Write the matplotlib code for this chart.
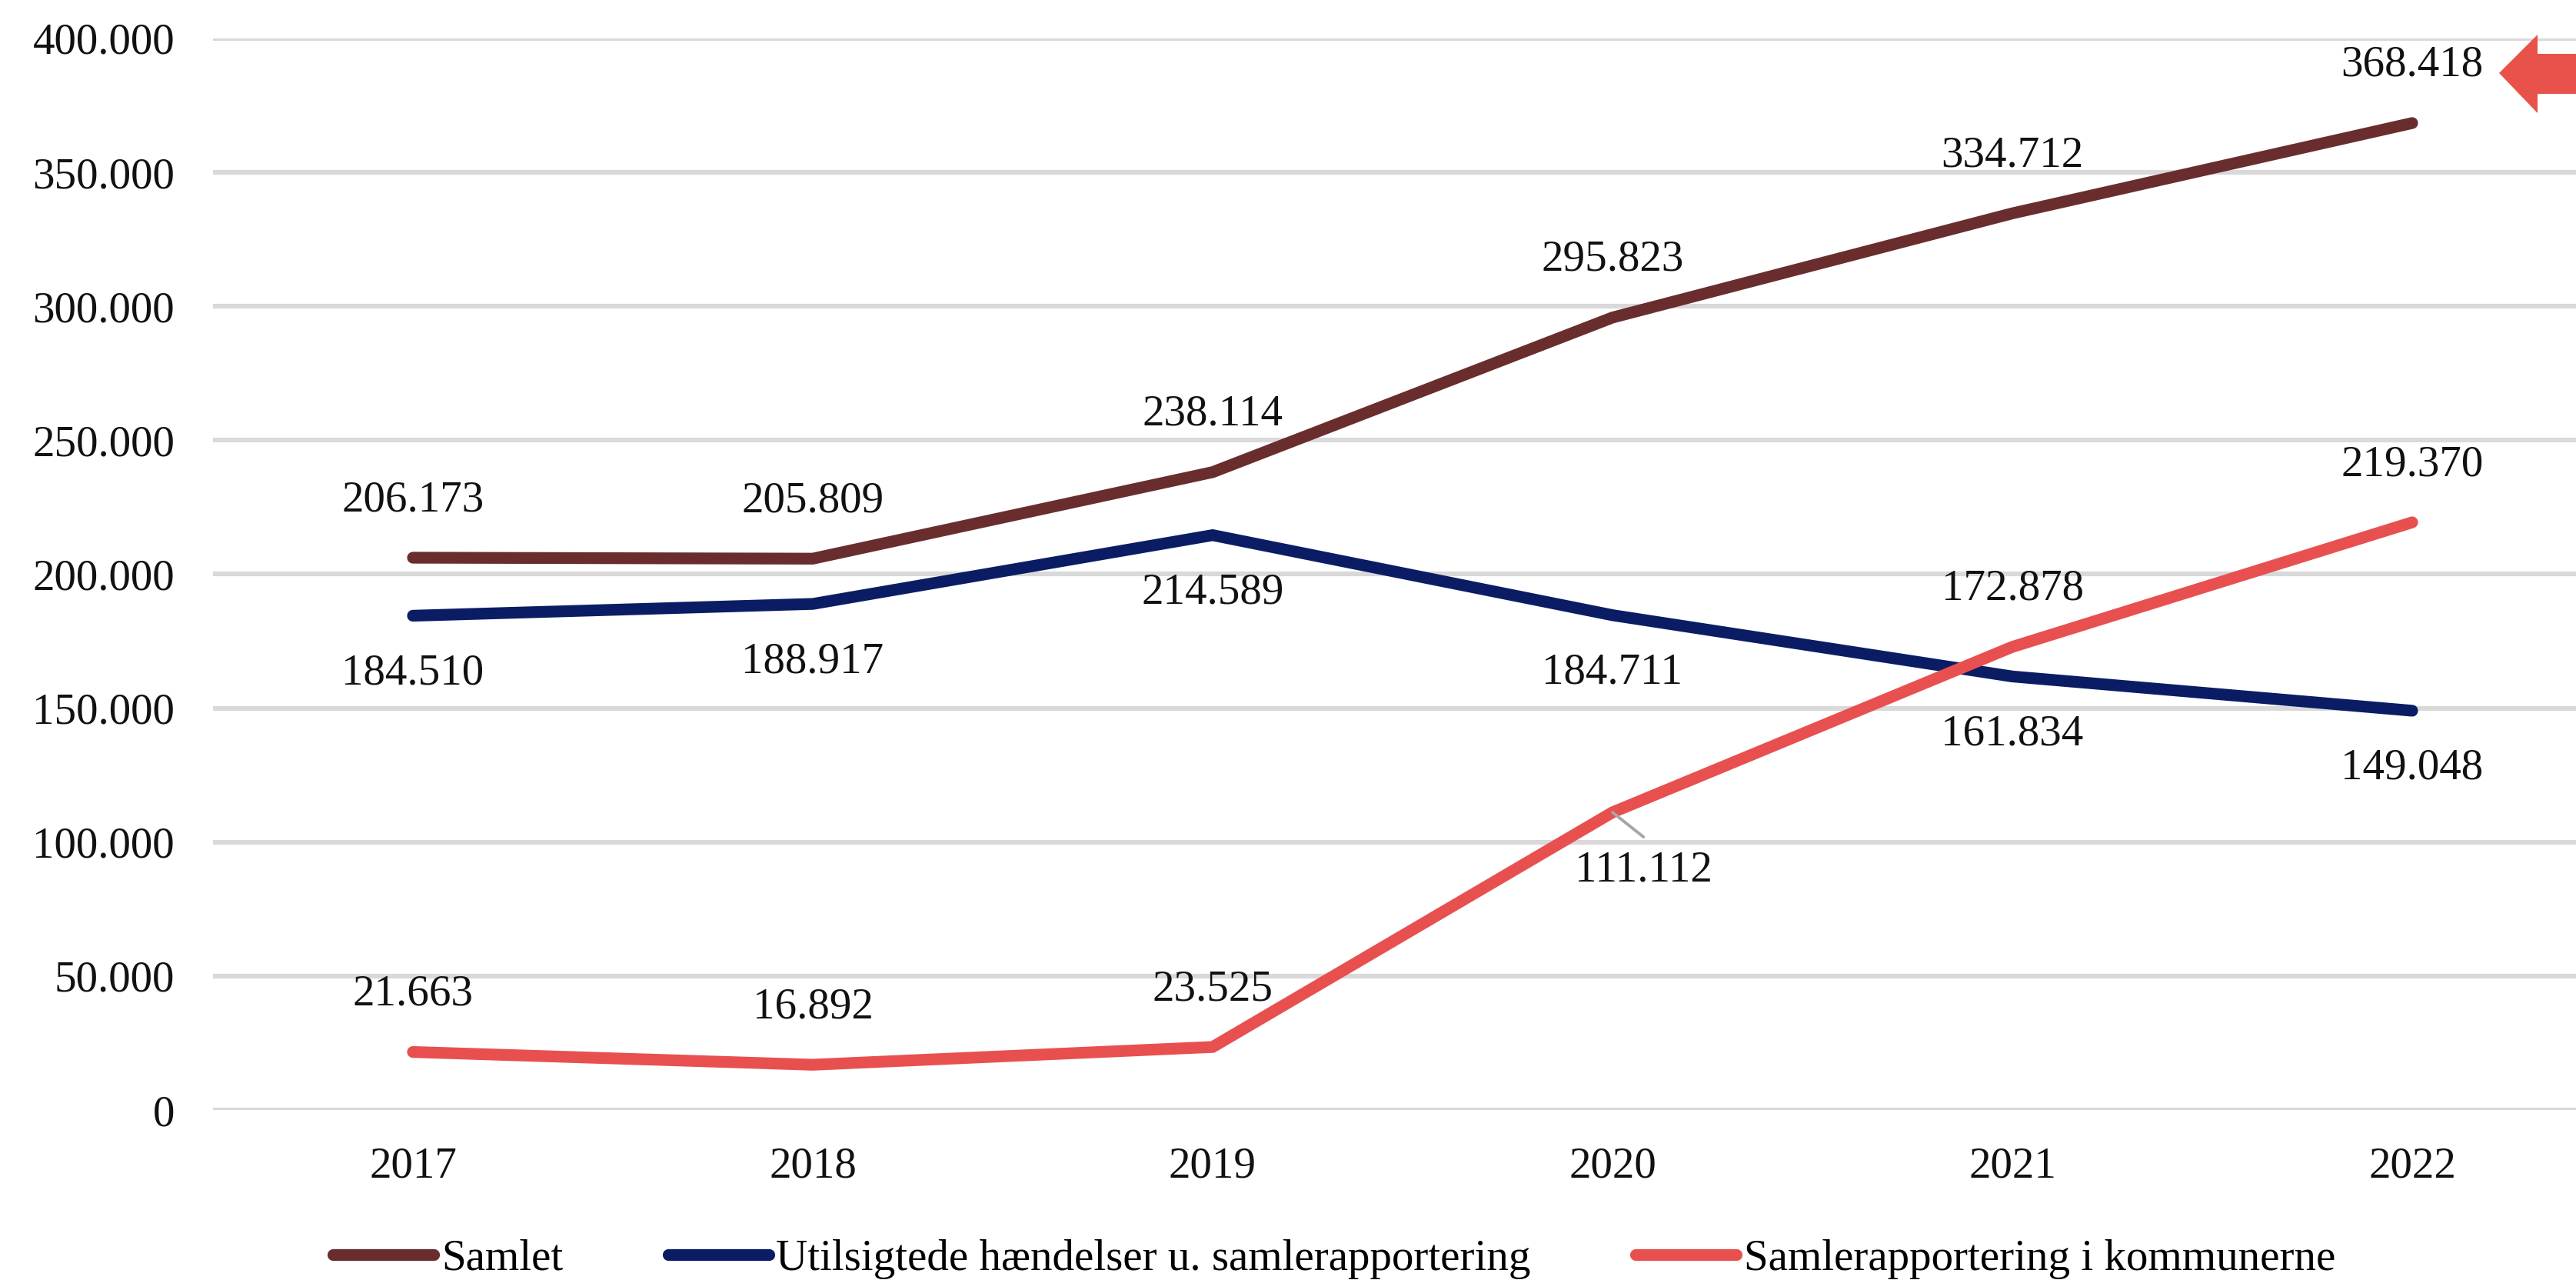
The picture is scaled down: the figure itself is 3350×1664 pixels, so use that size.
import matplotlib
matplotlib.use('Agg')
import matplotlib.pyplot as plt
from matplotlib.ticker import FuncFormatter
from matplotlib.patches import Polygon

# data
years = ['2017', '2018', '2019', '2020', '2021', '2022']
samlet = [206173, 205809, 238114, 295823, 334712, 368418]
utilsigtede = [184510, 188917, 214589, 184711, 161834, 149048]
kommuner = [21663, 16892, 23525, 111112, 172878, 219370]
series_names = ['Samlet', 'Utilsigtede hændelser u. samlerapportering', 'Samlerapportering i kommunerne']
y_ticks = [0, 50000, 100000, 150000, 200000, 250000, 300000, 350000, 400000]

colors = ['#6A2D2E', '#0A1D64', '#E85050']
font = 'Liberation Serif'
fs = 20.5


def dk(v):
    # tusindtalsseparator med punktum
    return f'{int(v):,}'.replace(',', '.')


plt.rcParams['font.family'] = [font, 'DejaVu Serif']

fig = plt.figure(figsize=(16.75, 8.32), dpi=200)
ax = fig.add_axes([277 / 3350, 221 / 1664, 3120 / 3350, 1393 / 1664])

x = list(range(len(years)))
all_series = [samlet, utilsigtede, kommuner]
for vals, name, c in zip(all_series, series_names, colors):
    ax.plot(x, vals, color=c, lw=5.5, label=name, solid_capstyle='round',
            solid_joinstyle='miter', zorder=3)

# datalabels: over/under punkterne
placement = [
    ['above'] * 6,
    ['below'] * 6,
    ['above', 'above', 'above', 'leader', 'above', 'above'],
]
for vals, pl in zip(all_series, placement):
    for xi, v, p in zip(x, vals, pl):
        if p == 'above':
            ax.annotate(dk(v), (xi, v), xytext=(0, 27), textcoords='offset points',
                        ha='center', va='center', fontsize=fs, color='#111111')
        elif p == 'below':
            ax.annotate(dk(v), (xi, v), xytext=(0, -27), textcoords='offset points',
                        ha='center', va='center', fontsize=fs, color='#111111')
        else:
            ax.annotate(dk(v), (xi, v), xytext=(14.5, -27), textcoords='offset points',
                        ha='center', va='center', fontsize=fs, color='#111111')
            ax.annotate('', (xi, v), xytext=(14.5, -11.5), textcoords='offset points',
                        arrowprops=dict(arrowstyle='-', color='#A6A6A6', lw=1.4, shrinkA=0, shrinkB=0))

ax.set_xlim(-0.5, 5.5)
ax.set_ylim(0, 400000)
ax.set_yticks(y_ticks)
ax.yaxis.set_major_formatter(FuncFormatter(lambda v, p: dk(v)))
ax.set_xticks(x)
ax.set_xticklabels(years)
ax.tick_params(axis='both', length=0, labelsize=fs, colors='#111111')
ax.tick_params(axis='y', pad=18)
ax.tick_params(axis='x', pad=17)
ax.grid(axis='y', color='#D9D9D9', lw=2.2, zorder=0)
ax.set_axisbelow(True)
for s in ax.spines.values():
    s.set_visible(False)

fig.legend(loc='center', bbox_to_anchor=(0.518, 0.0165), ncol=3, frameon=False,
           fontsize=fs, handlelength=2.3, handletextpad=0.17, columnspacing=2.4)

# rød pil øverst til højre
W, H = 3350, 1664
pts = [(3250, 95), (3300, 45), (3300, 70), (3350, 70), (3350, 122), (3300, 122), (3300, 147)]
arrow = Polygon([(px / W, 1 - py / H) for px, py in pts], closed=True,
                transform=fig.transFigure, facecolor='#E8524A', edgecolor='none')
fig.patches.append(arrow)

fig.savefig('out.png', dpi=200)
